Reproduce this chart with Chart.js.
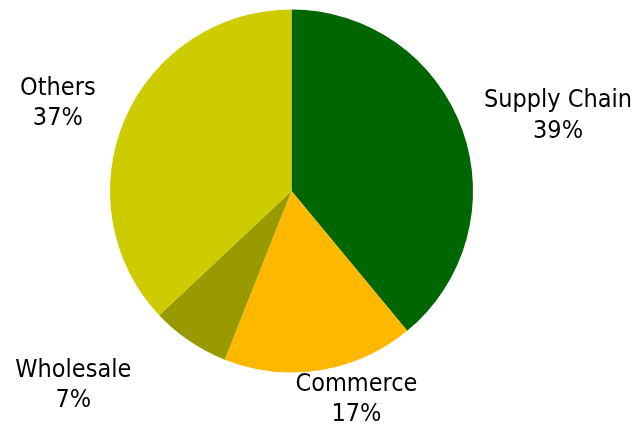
<!DOCTYPE html>
<html>
<head>
<meta charset="utf-8">
<script src="https://cdn.jsdelivr.net/npm/chart.js@4/dist/chart.umd.min.js"></script>
<style>
  html, body { margin: 0; padding: 0; background: #fff; }
  #wrap { width: 638px; height: 424px; }
</style>
</head>
<body>
<div id="wrap"><canvas id="pieChart"></canvas></div>
<script>
// segments, clockwise from 12 o'clock
var segments = ['Supply Chain', 'Commerce', 'Wholesale', 'Others'];
var shares = [39, 17, 7, 37];
var segColors = ['#006600', '#FFB800', '#999900', '#CCCC00'];

// where each label sits: distance from centre (in radii) and turn from the slice middle (deg)
var labelDist = [1.53, 1.19, 1.6, 1.38];
var labelTurn = [3.5, -8.5, 14.5, -2.3];

// draws the "name / percent" labels outside the pie
var outsideLabels = {
    id: 'outsideLabels',
    afterDatasetsDraw: function (chart) {
        var ctx = chart.ctx;
        var arcs = chart.getDatasetMeta(0).data;
        ctx.save();
        ctx.font = '25px "DejaVu Sans Condensed", "DejaVu Sans", sans-serif';
        ctx.fillStyle = '#000';
        ctx.textAlign = 'center';
        ctx.textBaseline = 'middle';
        arcs.forEach(function (arc, i) {
            var mid = (arc.startAngle + arc.endAngle) / 2 + labelTurn[i] * Math.PI / 180;
            var r = arc.outerRadius * labelDist[i];
            var x = arc.x + Math.cos(mid) * r;
            var y = arc.y + Math.sin(mid) * r;
            ctx.fillText(segments[i], x, y - 12.5);
            ctx.fillText(shares[i] + '%', x, y + 18);
        });
        ctx.restore();
    }
};

new Chart(document.getElementById('pieChart'), {
    type: 'pie',
    data: {
        labels: segments,
        datasets: [{
            data: shares,
            backgroundColor: segColors,
            borderWidth: 0
        }]
    },
    options: {
        responsive: true,
        maintainAspectRatio: false,
        animation: false,
        layout: { padding: { top: 9, bottom: 51, left: 110, right: 165 } },
        plugins: {
            legend: { display: false },
            tooltip: { enabled: false }
        }
    },
    plugins: [outsideLabels]
});
</script>
</body>
</html>
